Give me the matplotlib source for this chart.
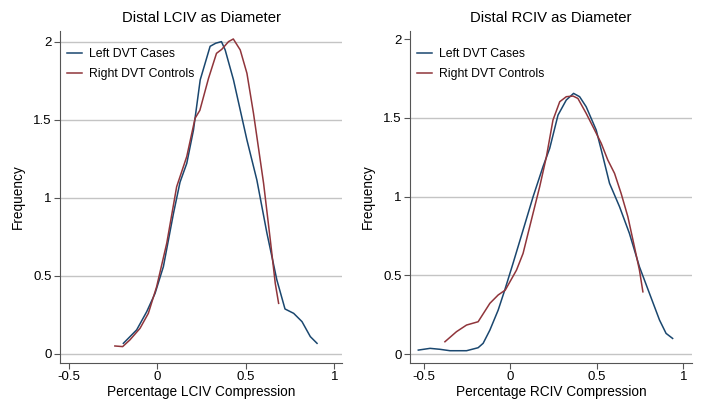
import matplotlib
matplotlib.use("Agg")
import matplotlib.pyplot as plt
from matplotlib.lines import Line2D

plt.rcParams['font.family'] = ['Liberation Sans', 'DejaVu Sans']

# ---- Data ----
lciv_cases_x = [-0.192, -0.117, -0.060, -0.013, 0.034, 0.091, 0.128, 0.166, 0.204, 0.242,
                0.298, 0.330, 0.362, 0.383, 0.430, 0.506, 0.562, 0.619, 0.675, 0.721,
                0.770, 0.817, 0.864, 0.902]
lciv_cases_y = [0.068, 0.154, 0.271, 0.388, 0.559, 0.900, 1.100, 1.220, 1.434, 1.755,
                1.970, 1.990, 2.000, 1.947, 1.755, 1.370, 1.114, 0.773, 0.474, 0.288,
                0.260, 0.207, 0.111, 0.068]
lciv_ctrl_x = [-0.240, -0.196, -0.155, -0.098, -0.051, -0.004, 0.053, 0.109, 0.166, 0.213,
               0.240, 0.289, 0.334, 0.364, 0.402, 0.429, 0.468, 0.506, 0.543, 0.600,
               0.638, 0.666, 0.685]
lciv_ctrl_y = [0.051, 0.047, 0.090, 0.164, 0.260, 0.431, 0.709, 1.071, 1.264, 1.509,
               1.560, 1.765, 1.925, 1.951, 2.000, 2.017, 1.947, 1.797, 1.541, 1.093,
               0.730, 0.452, 0.324]

rciv_cases_x = [-0.533, -0.465, -0.408, -0.350, -0.254, -0.187, -0.158, -0.119, -0.071, -0.033,
                0.015, 0.073, 0.131, 0.188, 0.227, 0.275, 0.323, 0.365, 0.400, 0.438,
                0.496, 0.535, 0.573, 0.631, 0.688, 0.746, 0.804, 0.862, 0.900, 0.938]
rciv_cases_y = [0.025, 0.036, 0.030, 0.021, 0.021, 0.040, 0.068, 0.152, 0.279, 0.406,
                0.576, 0.787, 0.999, 1.189, 1.306, 1.517, 1.613, 1.655, 1.634, 1.570,
                1.422, 1.253, 1.084, 0.935, 0.766, 0.554, 0.385, 0.216, 0.131, 0.099]
rciv_ctrl_x = [-0.379, -0.312, -0.254, -0.187, -0.119, -0.071, -0.030, 0.035, 0.073, 0.121,
               0.169, 0.208, 0.246, 0.285, 0.323, 0.362, 0.390, 0.438, 0.487, 0.525,
               0.563, 0.602, 0.640, 0.679, 0.717, 0.746, 0.766]
rciv_ctrl_y = [0.078, 0.142, 0.184, 0.205, 0.322, 0.375, 0.406, 0.533, 0.639, 0.851,
               1.062, 1.253, 1.486, 1.602, 1.634, 1.638, 1.623, 1.528, 1.422, 1.338,
               1.232, 1.147, 1.020, 0.872, 0.681, 0.533, 0.395]

titles = ["Distal LCIV as Diameter", "Distal RCIV as Diameter"]
xlabels = ["Percentage LCIV Compression", "Percentage RCIV Compression"]
legend_labels = ["Left DVT Cases", "Right DVT Controls"]
ticks = [-0.5, 0, 0.5, 1]
tick_labels = ["-0.5", "0", "0.5", "1"]
yticks = [0, 0.5, 1, 1.5, 2]
ytick_labels = ["0", "0.5", "1", "1.5", "2"]

blue = "#1a476f"
red = "#90353b"
grid_c = "#c4c4c4"
spine_c = "#555555"

fig = plt.figure(figsize=(7.05, 4.13), dpi=100)
axL = fig.add_axes([60/705, 1-363/413, (342-60)/705, (363-30.7)/413])
axR = fig.add_axes([410/705, 1-363/413, (692-410)/705, (363-30.7)/413])

panels = [
    (axL, lciv_cases_x, lciv_cases_y, lciv_ctrl_x, lciv_ctrl_y, (-0.55, 1.043), (-0.058, 2.07), yticks),
    (axR, rciv_cases_x, rciv_cases_y, rciv_ctrl_x, rciv_ctrl_y, (-0.581, 1.05), (-0.057, 2.053), yticks[:-1]),
]

for i, (ax, cx, cy, rx, ry, xl, yl, gridvals) in enumerate(panels):
    for g in gridvals:
        ax.axhline(g, color=grid_c, lw=1.0, zorder=1)
    ax.plot(cx, cy, color=blue, lw=1.1, zorder=3)
    ax.plot(rx, ry, color=red, lw=1.1, zorder=3)
    ax.set_xlim(*xl)
    ax.set_ylim(*yl)
    ax.set_xticks(ticks)
    ax.set_xticklabels(tick_labels)
    ax.set_yticks(yticks)
    ax.set_yticklabels(ytick_labels)
    ax.tick_params(axis='both', direction='out', length=4, width=0.8, color=spine_c,
                   labelsize=9.5, pad=2)
    for s in ['top', 'right']:
        ax.spines[s].set_visible(False)
    for s in ['left', 'bottom']:
        ax.spines[s].set_color(spine_c)
        ax.spines[s].set_linewidth(0.8)
    ax.set_title(titles[i], fontsize=10.7, pad=6)
    ax.set_xlabel(xlabels[i], fontsize=9.8, labelpad=1)
    ax.set_ylabel("Frequency", fontsize=9.8, labelpad=6)
    handles = [Line2D([0], [0], color=blue, lw=1.1), Line2D([0], [0], color=red, lw=1.1)]
    ax.legend(handles, legend_labels, loc='upper left', frameon=False, fontsize=8.8,
              handlelength=1.2, handletextpad=0.6, labelspacing=0.65,
              bbox_to_anchor=(-0.005, 0.973), borderaxespad=0.3)

fig.savefig("out.png", dpi=100)
